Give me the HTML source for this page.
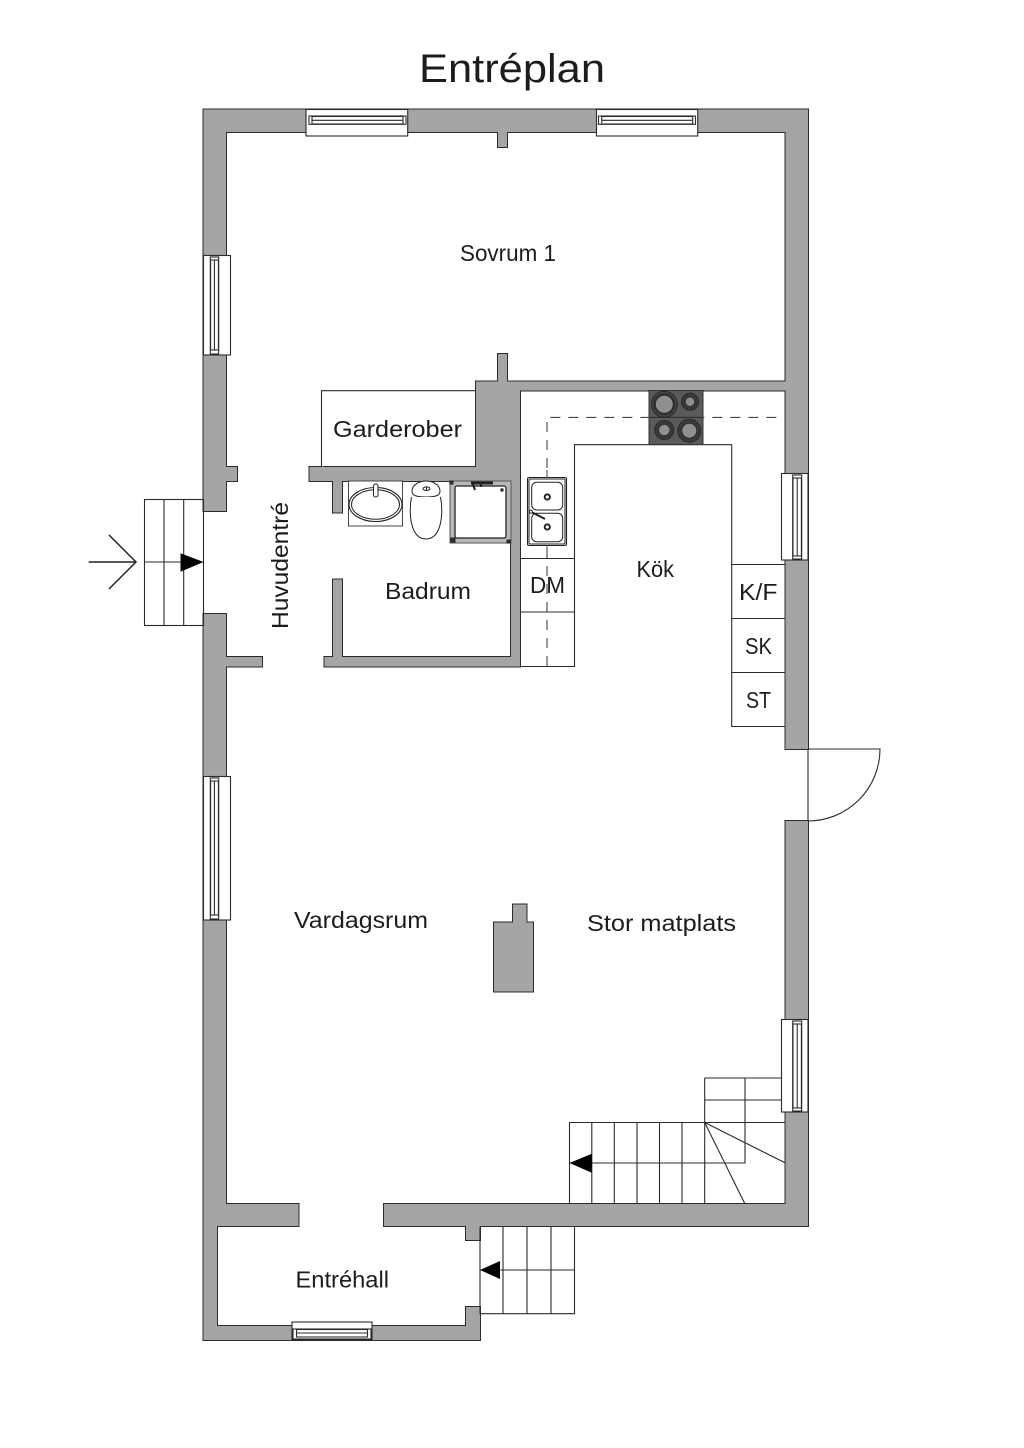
<!DOCTYPE html>
<html lang="sv">
<head>
<meta charset="utf-8">
<title>Entréplan</title>
<style>
html,body{margin:0;padding:0;background:#fff;width:1024px;height:1448px;overflow:hidden}
svg{display:block}
text{font-family:"Liberation Sans",sans-serif;fill:#1c1c1c}
</style>
</head>
<body>
<svg width="1024" height="1448" viewBox="0 0 1024 1448" xmlns="http://www.w3.org/2000/svg">
<defs>
<g id="w">
<rect x="203.5" y="109.5" width="604.5" height="22.5"/>
<rect x="203.5" y="109.5" width="22.5" height="401.5"/>
<rect x="226" y="467" width="11" height="14"/>
<rect x="203.5" y="614" width="22.5" height="612"/>
<rect x="226" y="657" width="36" height="9.5"/>
<rect x="203.5" y="1204" width="95" height="22"/>
<rect x="203.5" y="1204" width="13.5" height="136"/>
<rect x="203.5" y="1326" width="276.5" height="14"/>
<rect x="466" y="1307" width="14" height="33"/>
<rect x="384" y="1204" width="424" height="22"/>
<rect x="466" y="1226" width="14" height="14"/>
<rect x="785.5" y="109.5" width="22.5" height="639.5"/>
<rect x="785.5" y="821" width="22.5" height="405"/>
<rect x="498" y="132" width="9" height="15"/>
<rect x="476" y="381.5" width="309.5" height="9"/>
<rect x="476" y="381.5" width="44" height="99"/>
<rect x="498" y="354" width="9" height="28"/>
<rect x="309.5" y="467" width="210.5" height="14"/>
<rect x="333" y="481" width="9" height="31.5"/>
<rect x="511" y="481" width="9" height="185.5"/>
<rect x="324.5" y="657" width="195.5" height="9.5"/>
<rect x="333" y="579.5" width="9" height="78"/>
<rect x="494" y="922.5" width="39" height="69"/>
<rect x="513" y="904.5" width="13.5" height="19"/>
</g>
</defs>

<!-- walls -->
<use href="#w" fill="#2b2b2b" stroke="#2b2b2b" stroke-width="2"/>
<use href="#w" fill="#a5a5a5"/>

<g fill="none" stroke="#2b2b2b" stroke-width="1.1">
<!-- garderob -->
<path d="M476 390.7H321.5V467" fill="#fff"/>

<!-- kitchen counters -->
<path d="M520 558.5H574.5M520 612H574.5M520 666.5H574.5V444.7H731.7V726.5H785.5M731.7 564.5H785.5M731.7 618.5H785.5M731.7 672.5H785.5"/>
<path d="M547 666V417.4H785.5" stroke-dasharray="10 8" stroke="#444"/>

<!-- entrance stairs -->
<rect x="144.5" y="499.5" width="59" height="126"/>
<path d="M164 499.5V625.5M183.7 499.5V625.5M144.5 562H203.5"/>

<!-- main stairs -->
<path d="M569.5 1204V1122.5H785.5M591.8 1122.5V1204M614.3 1122.5V1204M637 1122.5V1204M659.5 1122.5V1204M682 1122.5V1204M704.7 1078V1204M704.7 1078H781.5M704.7 1100H781.5M745 1078V1163H569.5"/>
<path d="M704.7 1122.5L785.5 1163M704.7 1122.5L745 1204"/>

<!-- hall stairs -->
<path d="M480 1227V1313.7H574.5V1226.5M503 1227V1313.7M527 1227V1313.7M551 1227V1313.7M480 1270H574.5"/>

<!-- back door -->
<path d="M808 749V821M808 749H880A72 72 0 0 1 808 821"/>
</g>

<!-- arrowheads -->
<path d="M203.5 562L180.5 553.3V571.8Z" fill="#000"/>
<path d="M569.5 1163L591.8 1153.7V1172.7Z" fill="#000"/>
<path d="M480 1270L500 1261V1279Z" fill="#000"/>
<path d="M88.7 562H136M109 535L136 562L109 589" fill="none" stroke="#222" stroke-width="1.5"/>

<!-- windows -->
<g fill="#fff" stroke="#2b2b2b" stroke-width="1.1">
<rect x="306" y="109.5" width="101.7" height="26.5"/>
<rect x="309" y="116" width="97" height="8.3"/>
<rect x="312" y="116.5" width="91" height="7.5"/>
<path d="M312 120.3H403" fill="none"/>

<rect x="596.5" y="109.5" width="101.2" height="26.5"/>
<rect x="598.5" y="116" width="97" height="8.3"/>
<rect x="601.7" y="116.5" width="91" height="7.5"/>
<path d="M601.7 120.3H692.7" fill="none"/>

<rect x="203.5" y="255.5" width="27" height="99.5"/>
<rect x="210.3" y="257" width="8.4" height="97"/>
<rect x="210.6" y="260" width="7.8" height="90"/>
<path d="M214.4 260V350" fill="none"/>

<rect x="203.5" y="776.5" width="27" height="143.5"/>
<rect x="210.3" y="778" width="8.4" height="141"/>
<rect x="210.6" y="781" width="7.8" height="134"/>
<path d="M214.4 781V915" fill="none"/>

<rect x="781.5" y="473.5" width="26.5" height="86.5"/>
<rect x="792.7" y="475" width="9" height="84"/>
<rect x="793" y="478" width="8.4" height="78"/>
<path d="M797.2 478V556" fill="none"/>

<rect x="781.5" y="1019.5" width="26.5" height="92.5"/>
<rect x="792.7" y="1021" width="9" height="90"/>
<rect x="793" y="1024" width="8.4" height="84"/>
<path d="M797.2 1024V1108" fill="none"/>

<rect x="292" y="1322" width="80" height="18"/>
<rect x="293" y="1329" width="78" height="10"/>
<rect x="296.5" y="1329.5" width="71" height="7.5"/>
<path d="M296.5 1333H367.5" fill="none"/>
</g>

<!-- stove -->
<rect x="649" y="390.5" width="54" height="54" fill="#5a5a5a" stroke="#333" stroke-width="1"/>
<path d="M650 417.4H702" stroke="#2b2b2b" stroke-width="1"/>
<g stroke="#2a2a2a" stroke-width="1">
<circle cx="664.3" cy="404.3" r="13" fill="#484848"/>
<circle cx="664.3" cy="404.3" r="10.5" fill="#3a3a3a"/>
<circle cx="664.3" cy="404.3" r="9" fill="#8f8f8f"/>
<circle cx="690" cy="401.7" r="8.5" fill="#3a3a3a"/>
<circle cx="690" cy="401.7" r="4.8" fill="#8f8f8f"/>
<circle cx="664.3" cy="430" r="9.5" fill="#3a3a3a"/>
<circle cx="664.3" cy="430" r="5.8" fill="#8f8f8f"/>
<circle cx="689.3" cy="430.7" r="11.5" fill="#3a3a3a"/>
<circle cx="689.3" cy="430.7" r="7.5" fill="#8f8f8f"/>
</g>

<!-- kitchen sink -->
<g fill="none" stroke="#222" stroke-width="1">
<rect x="527.5" y="477.5" width="39" height="68" rx="1.5" fill="#fff" stroke-width="1.1"/>
<rect x="529" y="479" width="36" height="65" rx="1"/>
<rect x="531.7" y="482.3" width="31" height="27.7" rx="5"/>
<rect x="531.7" y="513.3" width="31" height="28.4" rx="5"/>
<circle cx="547.3" cy="497" r="2.6" stroke-width="2"/>
<circle cx="547.3" cy="527" r="2.6" stroke-width="2"/>
<path d="M547 470V478M547 545V558" stroke="#444"/>
<path d="M531.5 512L545 519" stroke-width="2"/>
<circle cx="530.8" cy="511.7" r="1.6" fill="#fff"/>
</g>

<!-- bathroom fixtures -->
<g fill="none" stroke="#222" stroke-width="1">
<rect x="348.5" y="481" width="54" height="45" fill="#fff" stroke="#444"/>
<ellipse cx="375.5" cy="504.5" rx="26.5" ry="17" stroke-width="1.1"/>
<ellipse cx="375.5" cy="504.5" rx="24" ry="14.8"/>
<rect x="373.5" y="484" width="4.5" height="13" rx="2" fill="#fff"/>
<path d="M412 491C412 484.5 420 481 426 481C432 481 440 484.5 440 491C440 495 437 497 426 497C415 497 412 495 412 491Z" fill="#fff"/>
<path d="M411.5 497C408.5 512 410 539 426 539C442 539 443.5 512 440.5 497" fill="#fff"/>
<ellipse cx="426.5" cy="488.7" rx="3.5" ry="1.8"/>
<path d="M426.5 487V490.5"/>
<rect x="450" y="481" width="61" height="62" fill="#b9b9b9" stroke="#555"/>
<rect x="455" y="486" width="51" height="52" rx="2" fill="#fff" stroke-width="1.3"/>
<path d="M471 483H493" stroke-width="3"/>
<path d="M472 482L475 490M481 482V487" stroke-width="2"/>
<circle cx="502" cy="490" r="1.2" fill="#444"/>
<rect x="450" y="481" width="3" height="3" fill="#333"/>
<rect x="451" y="538" width="4" height="4" fill="#333"/>
<rect x="507" y="540" width="3" height="3" fill="#333"/>
</g>

<!-- labels -->
<text x="419" y="82" font-size="40" textLength="186" lengthAdjust="spacingAndGlyphs">Entréplan</text>
<text x="460" y="261" font-size="23" textLength="96" lengthAdjust="spacingAndGlyphs">Sovrum 1</text>
<text x="333" y="437" font-size="23" textLength="129" lengthAdjust="spacingAndGlyphs">Garderober</text>
<text x="385" y="599" font-size="23" textLength="86" lengthAdjust="spacingAndGlyphs">Badrum</text>
<text transform="translate(288 629) rotate(-90)" font-size="23" textLength="127" lengthAdjust="spacingAndGlyphs">Huvudentré</text>
<text x="636.5" y="577" font-size="23" textLength="37.5" lengthAdjust="spacingAndGlyphs">Kök</text>
<text x="530" y="593" font-size="23" textLength="35" lengthAdjust="spacingAndGlyphs">DM</text>
<text x="739" y="600" font-size="23" textLength="38.5" lengthAdjust="spacingAndGlyphs">K/F</text>
<text x="745" y="654" font-size="23" textLength="27" lengthAdjust="spacingAndGlyphs">SK</text>
<text x="746" y="708" font-size="23" textLength="25" lengthAdjust="spacingAndGlyphs">ST</text>
<text x="294" y="928" font-size="23" textLength="134" lengthAdjust="spacingAndGlyphs">Vardagsrum</text>
<text x="587" y="931" font-size="23" textLength="149" lengthAdjust="spacingAndGlyphs">Stor matplats</text>
<text x="295.5" y="1287.5" font-size="23" textLength="93.5" lengthAdjust="spacingAndGlyphs">Entréhall</text>
</svg>
</body>
</html>
